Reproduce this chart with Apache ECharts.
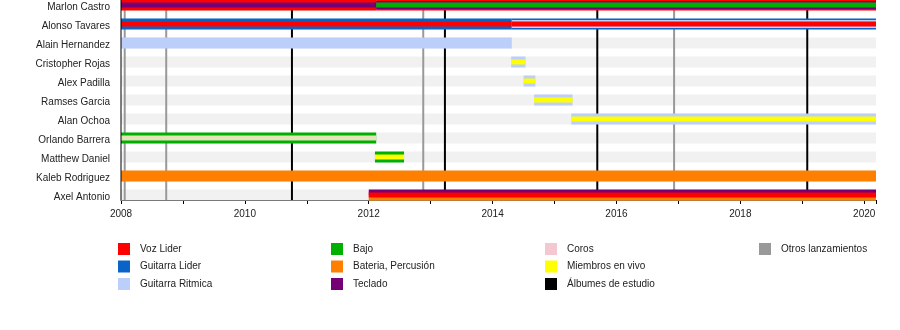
<!DOCTYPE html>
<html><head><meta charset="utf-8">
<script src="https://cdn.jsdelivr.net/npm/echarts@6/dist/echarts.min.js"></script>
<style>html,body{margin:0;padding:0;background:#fff}#c{width:900px;height:330px}</style>
</head><body><div id="c"></div>
<script>
// ---------- DATA ----------
const members = ['Marlon Castro','Alonso Tavares','Alain Hernandez','Cristopher Rojas','Alex Padilla','Ramses Garcia','Alan Ochoa','Orlando Barrera','Matthew Daniel','Kaleb Rodriguez','Axel Antonio'];
const timelineStart = 2008;
const timelineEnd = 2020.19;
const xTickStep = 2;
const studioAlbums = [2010.76, 2013.23, 2015.69, 2019.08];
const otherReleases = [2008.06, 2008.73, 2012.88, 2016.93];
// member, from, to, roles from outer to inner ([top,bottom] = split layer)
const periods = [
  ['Marlon Castro', 2008, 2012.12, ['Voz Lider','Teclado']],
  ['Marlon Castro', 2012.12, 2020.19, ['Voz Lider','Teclado','Bajo']],
  ['Alonso Tavares', 2008, 2014.31, ['Guitarra Lider','Voz Lider']],
  ['Alonso Tavares', 2014.31, 2020.19, ['Guitarra Lider','Guitarra Ritmica','Voz Lider']],
  ['Alain Hernandez', 2008, 2014.31, ['Guitarra Ritmica']],
  ['Cristopher Rojas', 2014.30, 2014.53, ['Guitarra Ritmica','Miembros en vivo']],
  ['Alex Padilla', 2014.50, 2014.69, ['Guitarra Ritmica','Miembros en vivo']],
  ['Ramses Garcia', 2014.67, 2015.29, ['Guitarra Ritmica','Miembros en vivo']],
  ['Alan Ochoa', 2015.27, 2020.19, ['Guitarra Ritmica','Miembros en vivo']],
  ['Orlando Barrera', 2008, 2012.12, ['Bajo','Coros']],
  ['Matthew Daniel', 2012.10, 2012.57, ['Bajo','Miembros en vivo']],
  ['Kaleb Rodriguez', 2008, 2020.19, ['Bateria, Percusión']],
  ['Axel Antonio', 2012.0, 2020.19, [['Teclado','Bateria, Percusión'],'Voz Lider']]
];
const legendCols = [
  ['Voz Lider','Guitarra Lider','Guitarra Ritmica'],
  ['Bajo','Bateria, Percusión','Teclado'],
  ['Coros','Miembros en vivo','Álbumes de estudio'],
  ['Otros lanzamientos']
];

// ---------- STYLES ----------
const roleColor = {
  'Voz Lider':'#ff0000',
  'Guitarra Lider':'#0a64c8',
  'Guitarra Ritmica':'#bccefa',
  'Bajo':'#00b000',
  'Bateria, Percusión':'#ff8000',
  'Teclado':'#750075',
  'Coros':'#f4c8d0',
  'Miembros en vivo':'#ffff00',
  'Álbumes de estudio':'#000000',
  'Otros lanzamientos':'#999999'
};
const barBandColor = {'Orlando Barrera|Coros':'#e6e3b8'};
const LAYER = {1:[11], 2:[11,5], 3:[11,8,5]};
const FONT = "'Liberation Sans', Arial, sans-serif";

function rect(x, y, w, h, fill){ return {type:'rect', shape:{x, y, width:w, height:h}, style:{fill}}; }

function renderBar(params, api){
  const p = periods[api.value(3)];
  const a = api.coord([api.value(1), api.value(0)]);
  const b = api.coord([api.value(2), api.value(0)]);
  const layers = p[3];
  const sizes = LAYER[layers.length];
  const w = b[0] - a[0];
  const children = [];
  layers.forEach((L, i) => {
    const h = sizes[i];
    if (Array.isArray(L)) {
      children.push(rect(a[0], a[1]-h/2, w, h/2, roleColor[L[0]]));
      children.push(rect(a[0], a[1], w, h/2, roleColor[L[1]]));
    } else {
      const c = barBandColor[p[0]+'|'+L] || roleColor[L];
      children.push(rect(a[0], a[1]-h/2, w, h, c));
    }
  });
  return {type:'group', children};
}
function renderStripe(params, api){
  const cs = params.coordSys;
  const y = api.coord([timelineStart, api.value(0)])[1];
  return rect(cs.x, y-5.5, cs.width, 11, '#f1f1f1');
}
function vline(color, width){
  return function(params, api){
    const cs = params.coordSys;
    const x = api.coord([api.value(0), 0])[0];
    return {type:'line', shape:{x1:x, y1:cs.y-5, x2:x, y2:cs.y+cs.height+5}, style:{stroke:color, lineWidth:width}};
  };
}

const series = [
  {type:'custom', name:'stripes', data:members.map((m,i)=>[i]), renderItem:renderStripe, z:1, silent:true, encode:{y:0}},
  {type:'custom', name:'Otros lanzamientos', data:otherReleases.map(v=>[v]), renderItem:vline(roleColor['Otros lanzamientos'],2), itemStyle:{color:roleColor['Otros lanzamientos']}, z:2, encode:{x:0}},
  {type:'custom', name:'Álbumes de estudio', data:studioAlbums.map(v=>[v]), renderItem:vline('#000',2), itemStyle:{color:'#000'}, z:2, encode:{x:0}},
  {type:'custom', name:'bars', data:periods.map((p,i)=>[members.indexOf(p[0]), p[1], p[2], i]), renderItem:renderBar, z:3, encode:{x:[1,2], y:0}},
  {type:'custom', name:'yline', data:[[timelineStart]], renderItem:vline('#000',1), z:4, encode:{x:0}, silent:true}
];
Object.keys(roleColor).forEach(r => {
  if (r === 'Álbumes de estudio' || r === 'Otros lanzamientos') return;
  series.push({type:'custom', name:r, data:[], renderItem:()=>null, itemStyle:{color:roleColor[r]}});
});

const legendLeft = [118, 331, 545, 759];
const legends = legendCols.map((col, i) => ({
  orient:'vertical', left:legendLeft[i], top:243, padding:0, itemGap:5.5,
  itemWidth:12, itemHeight:12, icon:'rect', selectedMode:false,
  data: col.map(n => ({name:n, icon:'rect'})),
  textStyle:{fontFamily:FONT, fontSize:10, color:'#222', lineHeight:12, padding:[0,0,0,5]}
}));

const chart = echarts.init(document.getElementById('c'), null, {renderer:'canvas'});
chart.setOption({
  animation:false,
  backgroundColor:'#fff',
  grid:{left:121, right:24, top:5, height:190},
  legend: legends,
  xAxis:{
    type:'value', min:timelineStart, max:timelineEnd, interval:xTickStep, offset:5,
    axisLine:{show:true, lineStyle:{color:'#000', width:1}},
    axisTick:{show:true, length:4, lineStyle:{color:'#000'}},
    minorTick:{show:true, splitNumber:2, length:4, lineStyle:{color:'#000'}},
    splitLine:{show:false},
    axisLabel:{fontFamily:FONT, fontSize:10, color:'#222', margin:9, showMaxLabel:false,
      formatter: v => String(Math.round(v))}
  },
  yAxis:{
    type:'category', data:members, inverse:true, boundaryGap:false,
    axisLine:{show:false}, axisTick:{show:false}, splitLine:{show:false},
    axisLabel:{fontFamily:FONT, fontSize:10, color:'#222', margin:11,
      formatter: v => '{n|' + v + '}',
      rich:{n:{fontFamily:FONT, fontSize:10, color:'#222', padding:[4,0,0,0]}}}
  },
  series
});
</script></body></html>
